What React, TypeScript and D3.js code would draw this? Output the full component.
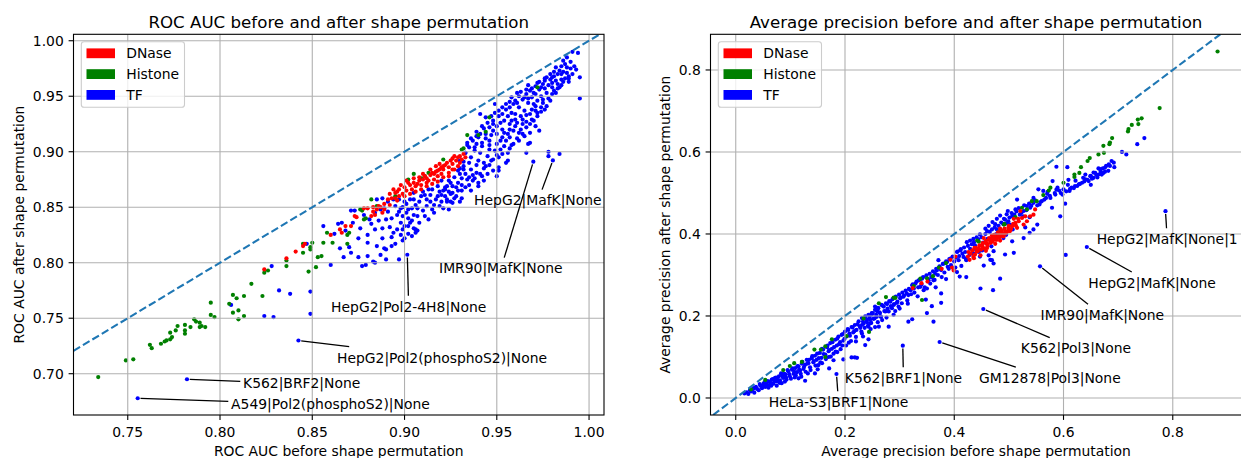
import React, { useEffect, useRef } from 'react';
import * as d3 from 'd3';

type Pt = [number, number];
type Ann = { label: string; point: Pt; text: Pt };

const categories = ['DNase', 'Histone', 'TF'];
const categoryColors = ['red', 'green', 'blue'];

const rocTicksX = [0.75, 0.8, 0.85, 0.9, 0.95, 1.0];
const rocTicksY = [0.7, 0.75, 0.8, 0.85, 0.9, 0.95, 1.0];
const apTicksX = [0, 0.2, 0.4, 0.6, 0.8];
const apTicksY = [0, 0.2, 0.4, 0.6, 0.8];

// ---------- ROC AUC panel ----------
const rocDNase: Pt[] = [
  [0.824, 0.794], [0.836, 0.804], [0.841, 0.810], [0.845, 0.815], [0.846, 0.817], [0.860, 0.825], [0.865, 0.830],
  [0.866, 0.827], [0.871, 0.833], [0.874, 0.841], [0.878, 0.849], [0.880, 0.849], [0.883, 0.850], [0.885, 0.848],
  [0.887, 0.850], [0.891, 0.857], [0.892, 0.862], [0.895, 0.863], [0.896, 0.864], [0.897, 0.866], [0.900, 0.868],
  [0.901, 0.865], [0.903, 0.870], [0.905, 0.872], [0.906, 0.869], [0.908, 0.874], [0.910, 0.875], [0.912, 0.876],
  [0.914, 0.879], [0.915, 0.881], [0.917, 0.882], [0.919, 0.884], [0.920, 0.886], [0.922, 0.888], [0.923, 0.890],
  [0.925, 0.892], [0.926, 0.894], [0.927, 0.896], [0.929, 0.895], [0.918, 0.878], [0.916, 0.875], [0.912, 0.872],
  [0.909, 0.870], [0.921, 0.887], [0.930, 0.896], [0.931, 0.893], [0.933, 0.895], [0.930, 0.890], [0.924, 0.878],
  [0.902, 0.872], [0.904, 0.866], [0.907, 0.871], [0.911, 0.878], [0.913, 0.874], [0.916, 0.880], [0.918, 0.883],
  [0.921, 0.884], [0.924, 0.886], [0.926, 0.889], [0.928, 0.892], [0.899, 0.862], [0.897, 0.860], [0.893, 0.858],
  [0.889, 0.853], [0.886, 0.851], [0.883, 0.846], [0.873, 0.842], [0.868, 0.833],
  [0.903, 0.862], [0.906, 0.864], [0.909, 0.866], [0.912, 0.869], [0.915, 0.871], [0.918, 0.873], [0.921, 0.877],
  [0.924, 0.881], [0.927, 0.884], [0.910, 0.880], [0.914, 0.884], [0.917, 0.887], [0.908, 0.877], [0.905, 0.876],
  [0.898, 0.870], [0.895, 0.858], [0.900, 0.860], [0.920, 0.880], [0.929, 0.887], [0.932, 0.898], [0.926, 0.884],
  [0.919, 0.889], [0.901, 0.874], [0.894, 0.866], [0.888, 0.845], [0.882, 0.842], [0.889, 0.848], [0.892, 0.852],
  [0.896, 0.856], [0.884, 0.843],
];

const rocHistone: Pt[] = [
  [0.734, 0.697], [0.749, 0.712], [0.753, 0.713], [0.762, 0.726], [0.763, 0.723], [0.768, 0.727], [0.770, 0.729],
  [0.771, 0.730], [0.773, 0.731], [0.774, 0.733], [0.773, 0.737], [0.776, 0.739], [0.777, 0.743], [0.781, 0.744],
  [0.781, 0.739], [0.781, 0.736], [0.784, 0.742], [0.786, 0.749], [0.787, 0.747], [0.789, 0.746], [0.790, 0.743],
  [0.789, 0.742], [0.792, 0.742], [0.795, 0.753], [0.795, 0.764], [0.797, 0.751], [0.805, 0.763], [0.807, 0.771],
  [0.807, 0.755], [0.809, 0.768], [0.810, 0.757], [0.810, 0.749], [0.813, 0.752], [0.813, 0.770], [0.817, 0.781],
  [0.823, 0.770], [0.824, 0.791], [0.826, 0.793], [0.836, 0.797], [0.836, 0.802], [0.848, 0.792], [0.852, 0.796],
  [0.853, 0.805], [0.845, 0.817], [0.845, 0.809], [0.849, 0.814], [0.849, 0.812], [0.850, 0.818], [0.855, 0.806],
  [0.856, 0.818], [0.861, 0.818], [0.858, 0.827], [0.869, 0.817], [0.869, 0.825], [0.870, 0.827], [0.876, 0.848],
  [0.878, 0.839], [0.879, 0.840], [0.882, 0.857], [0.885, 0.851], [0.895, 0.860], [0.902, 0.875], [0.905, 0.880],
  [0.909, 0.876], [0.913, 0.881], [0.921, 0.893], [0.932, 0.903], [0.934, 0.915], [0.972, 0.958], [0.946, 0.931],
  [0.944, 0.918], [0.940, 0.915], [0.931, 0.902], [0.911, 0.878], [0.877, 0.847],
];

const rocTF: Pt[] = [
  [0.7554, 0.6779], [0.7821, 0.695], [0.8425, 0.7299], [0.806, 0.762], [0.824, 0.752], [0.829, 0.751], [0.849, 0.754],
  [0.849, 0.774], [0.832, 0.775], [0.838, 0.772], [0.828, 0.797], [0.847, 0.817],
  [0.856, 0.833], [0.860, 0.798], [0.865, 0.813], [0.864, 0.835], [0.871, 0.847], [0.867, 0.805], [0.875, 0.805],
  [0.877, 0.797], [0.879, 0.798], [0.880, 0.806], [0.883, 0.801], [0.884, 0.830], [0.885, 0.857], [0.887, 0.848],
  [0.888, 0.822], [0.889, 0.813], [0.890, 0.839], [0.892, 0.832], [0.893, 0.815], [0.896, 0.843], [0.898, 0.849],
  [0.899, 0.850], [0.899, 0.842], [0.901, 0.845], [0.902, 0.848], [0.904, 0.849], [0.902, 0.840], [0.900, 0.833],
  [0.899, 0.830], [0.902, 0.833], [0.905, 0.831], [0.906, 0.827], [0.904, 0.824], [0.900, 0.822], [0.9015, 0.8072],
  [0.898, 0.836], [0.905, 0.843], [0.907, 0.849], [0.907, 0.842], [0.909, 0.860], [0.911, 0.861], [0.913, 0.866],
  [0.912, 0.857], [0.914, 0.861], [0.913, 0.839], [0.915, 0.848], [0.917, 0.857], [0.919, 0.864], [0.922, 0.866],
  [0.923, 0.855], [0.924, 0.848], [0.925, 0.872], [0.928, 0.860], [0.929, 0.872], [0.931, 0.876], [0.932, 0.884],
  [0.930, 0.885], [0.932, 0.891], [0.933, 0.899], [0.934, 0.906], [0.871, 0.809], [0.875, 0.822], [0.880, 0.825],
  [0.881, 0.839], [0.888, 0.858], [0.891, 0.855], [0.894, 0.857], [0.897, 0.857], [0.905, 0.863], [0.905, 0.857],
  [0.889, 0.849], [0.921, 0.849], [0.926, 0.854], [0.894, 0.827], [0.890, 0.812], [0.906, 0.830], [0.887, 0.807],
  [0.897, 0.803], [0.870, 0.814], [0.884, 0.800], [0.890, 0.803], [0.895, 0.817], [0.899, 0.820], [0.902, 0.826],
  [0.907, 0.829], [0.866, 0.836], [0.873, 0.847], [0.900, 0.855],
  [0.862, 0.826], [0.868, 0.829], [0.872, 0.836], [0.876, 0.831], [0.878, 0.843], [0.882, 0.835], [0.884, 0.845],
  [0.886, 0.838], [0.888, 0.831], [0.891, 0.846], [0.893, 0.840], [0.895, 0.851], [0.897, 0.846], [0.898, 0.825],
  [0.901, 0.853], [0.903, 0.857], [0.904, 0.838], [0.906, 0.852], [0.908, 0.855], [0.910, 0.847], [0.910, 0.864],
  [0.912, 0.851], [0.914, 0.855], [0.915, 0.866], [0.916, 0.852], [0.918, 0.869], [0.918, 0.860], [0.920, 0.855],
  [0.922, 0.860], [0.924, 0.864], [0.926, 0.869], [0.927, 0.858], [0.929, 0.865], [0.931, 0.870], [0.933, 0.868],
  [0.935, 0.877], [0.935, 0.870], [0.938, 0.876], [0.941, 0.880], [0.943, 0.885], [0.946, 0.888], [0.948, 0.893],
  [0.951, 0.895], [0.953, 0.898], [0.957, 0.903], [0.959, 0.907], [0.962, 0.910], [0.965, 0.914], [0.968, 0.917],
  [0.971, 0.923], [0.974, 0.936], [0.977, 0.941], [0.979, 0.946], [0.982, 0.953], [0.984, 0.958], [0.986, 0.963],
  [0.989, 0.966], [0.976, 0.938], [0.972, 0.935], [0.969, 0.929], [0.966, 0.927], [0.961, 0.926], [0.957, 0.920],
  [0.954, 0.917], [0.880, 0.818], [0.885, 0.815], [0.893, 0.823], [0.896, 0.830], [0.903, 0.836], [0.908, 0.836],
  [0.911, 0.842], [0.916, 0.845], [0.919, 0.851], [0.925, 0.862],
  [0.991, 0.990], [0.994, 0.989], [0.986, 0.982], [0.987, 0.979], [0.985, 0.977], [0.988, 0.976], [0.992, 0.977],
  [0.993, 0.974], [0.995, 0.967], [0.995, 0.948], [0.991, 0.970], [0.989, 0.968], [0.984, 0.973], [0.982, 0.976],
  [0.981, 0.968], [0.985, 0.965], [0.983, 0.961], [0.980, 0.962], [0.979, 0.970], [0.977, 0.967], [0.980, 0.958],
  [0.975, 0.961], [0.973, 0.956], [0.977, 0.953], [0.981, 0.955], [0.974, 0.950], [0.971, 0.959], [0.970, 0.953],
  [0.968, 0.955], [0.969, 0.949], [0.966, 0.952], [0.964, 0.947], [0.967, 0.944], [0.970, 0.943], [0.972, 0.946],
  [0.975, 0.944], [0.962, 0.950], [0.960, 0.946], [0.959, 0.943], [0.962, 0.940], [0.965, 0.937], [0.968, 0.934],
  [0.971, 0.937], [0.970, 0.928], [0.972, 0.932], [0.964, 0.929], [0.960, 0.934], [0.958, 0.935], [0.955, 0.938],
  [0.956, 0.932], [0.954, 0.928], [0.951, 0.932], [0.952, 0.926], [0.950, 0.923], [0.957, 0.925], [0.960, 0.923],
  [0.963, 0.920], [0.959, 0.919], [0.966, 0.922], [0.973, 0.919], [0.968, 0.908], [0.964, 0.916], [0.956, 0.916],
  [0.953, 0.913], [0.950, 0.916], [0.948, 0.919], [0.946, 0.922], [0.948, 0.928], [0.945, 0.926], [0.942, 0.923],
  [0.944, 0.916], [0.941, 0.916], [0.940, 0.913], [0.939, 0.914], [0.937, 0.910], [0.939, 0.907], [0.942, 0.908],
  [0.946, 0.910], [0.950, 0.907], [0.955, 0.910], [0.952, 0.902], [0.956, 0.899], [0.949, 0.901], [0.946, 0.902],
  [0.945, 0.896], [0.941, 0.899], [0.938, 0.901], [0.935, 0.904], [0.933, 0.899], [0.936, 0.895], [0.940, 0.892],
  [0.943, 0.890], [0.947, 0.892], [0.955, 0.890], [0.951, 0.886], [0.948, 0.883], [0.945, 0.880], [0.942, 0.878],
  [0.939, 0.881], [0.936, 0.884], [0.932, 0.887], [0.930, 0.892], [0.929, 0.883], [0.930, 0.880], [0.927, 0.877],
  [0.934, 0.875], [0.937, 0.874], [0.940, 0.872], [0.943, 0.874], [0.924, 0.874], [0.923, 0.869], [0.928, 0.868],
  [0.931, 0.865], [0.926, 0.863], [0.921, 0.865], [0.920, 0.861], [0.923, 0.857], [0.951, 0.883], [0.950, 0.878],
  [0.956, 0.892], [0.941, 0.934], [0.944, 0.931], [0.947, 0.932], [0.949, 0.943], [0.967, 0.907], [0.966, 0.899],
  [0.978, 0.900], [0.984, 0.898], [0.9804, 0.8922], [0.9698, 0.891], [0.978, 0.896], [0.920, 0.874], [0.922, 0.868],
  [0.925, 0.855], [0.930, 0.855], [0.931, 0.858], [0.936, 0.865], [0.940, 0.869],
  [0.986, 0.972], [0.988, 0.971], [0.990, 0.975], [0.989, 0.963], [0.987, 0.966], [0.983, 0.970], [0.985, 0.960],
  [0.982, 0.964], [0.979, 0.965], [0.976, 0.964], [0.974, 0.958], [0.978, 0.960], [0.972, 0.962], [0.969, 0.957],
  [0.967, 0.960], [0.966, 0.956], [0.963, 0.954], [0.965, 0.949], [0.961, 0.953], [0.958, 0.949], [0.957, 0.945],
  [0.955, 0.943], [0.953, 0.940], [0.951, 0.937], [0.949, 0.935], [0.953, 0.934], [0.957, 0.940], [0.961, 0.944],
  [0.967, 0.948], [0.971, 0.952], [0.976, 0.957], [0.980, 0.967], [0.983, 0.957], [0.978, 0.948], [0.974, 0.940],
  [0.969, 0.938], [0.963, 0.932], [0.958, 0.928], [0.953, 0.920], [0.947, 0.915], [0.944, 0.912], [0.960, 0.929],
  [0.966, 0.933], [0.971, 0.941], [0.975, 0.947], [0.980, 0.952], [0.985, 0.970], [0.990, 0.981], [0.988, 0.985],
  [0.981, 0.972], [0.976, 0.966], [0.973, 0.963], [0.948, 0.925], [0.943, 0.921], [0.939, 0.918], [0.936, 0.912],
  [0.934, 0.908], [0.938, 0.904], [0.942, 0.905], [0.946, 0.906], [0.952, 0.910], [0.957, 0.913], [0.962, 0.917],
  [0.968, 0.925], [0.964, 0.925], [0.961, 0.912], [0.958, 0.906], [0.954, 0.905], [0.950, 0.897], [0.944, 0.887],
  [0.939, 0.888], [0.935, 0.890], [0.933, 0.880], [0.937, 0.879],
];

const rocAnnotations: Ann[] = [
  { label: 'HepG2|MafK|None', point: [0.9804, 0.8922], text: [0.9377, 0.8516] },
  { label: 'IMR90|MafK|None', point: [0.9698, 0.891], text: [0.9187, 0.7903] },
  { label: 'HepG2|Pol2-4H8|None', point: [0.9015, 0.8072], text: [0.8602, 0.756] },
  { label: 'HepG2|Pol2(phosphoS2)|None', point: [0.8425, 0.7299], text: [0.8634, 0.7101] },
  { label: 'K562|BRF2|None', point: [0.7821, 0.695], text: [0.8125, 0.6867] },
  { label: 'A549|Pol2(phosphoS2)|None', point: [0.7554, 0.6779], text: [0.806, 0.6678] },
];

// ---------- Average precision panel ----------
const apDNase: Pt[] = [
  [0.393, 0.337], [0.396, 0.318], [0.402, 0.345], [0.426, 0.356], [0.435, 0.344], [0.445, 0.364], [0.451, 0.372],
  [0.460, 0.376], [0.466, 0.384], [0.472, 0.388], [0.479, 0.392], [0.487, 0.396], [0.493, 0.400], [0.499, 0.408],
  [0.484, 0.384], [0.475, 0.376], [0.469, 0.396], [0.448, 0.348], [0.377, 0.315], [0.399, 0.311], [0.451, 0.370],
  [0.457, 0.378], [0.463, 0.386], [0.469, 0.389], [0.475, 0.394], [0.481, 0.398], [0.487, 0.403], [0.493, 0.407],
  [0.499, 0.415], [0.506, 0.419], [0.512, 0.427], [0.518, 0.431], [0.524, 0.439], [0.530, 0.443], [0.539, 0.443],
  [0.545, 0.447], [0.548, 0.460], [0.527, 0.423], [0.515, 0.415], [0.502, 0.407], [0.490, 0.394], [0.478, 0.386],
  [0.466, 0.378], [0.460, 0.366], [0.484, 0.413], [0.509, 0.437], [0.533, 0.431], [0.521, 0.456], [0.454, 0.390],
  [0.324, 0.268], [0.351, 0.284], [0.340, 0.280], [0.441, 0.357], [0.437, 0.366], [0.458, 0.359],
  [0.425, 0.345], [0.430, 0.352], [0.433, 0.360], [0.438, 0.350], [0.440, 0.366], [0.443, 0.358], [0.446, 0.372],
  [0.449, 0.362], [0.452, 0.378], [0.455, 0.365], [0.458, 0.383], [0.461, 0.372], [0.464, 0.390], [0.467, 0.380],
  [0.470, 0.382], [0.473, 0.398], [0.476, 0.386], [0.480, 0.404], [0.483, 0.392], [0.486, 0.409], [0.489, 0.400],
  [0.492, 0.413], [0.496, 0.404], [0.500, 0.420], [0.504, 0.412], [0.508, 0.425], [0.513, 0.420], [0.517, 0.437],
  [0.428, 0.337], [0.436, 0.341],
];

const apHistone: Pt[] = [
  [0.882, 0.845], [0.776, 0.707], [0.743, 0.682], [0.736, 0.679], [0.737, 0.668], [0.725, 0.666], [0.719, 0.656],
  [0.718, 0.650], [0.689, 0.634], [0.685, 0.623], [0.684, 0.619], [0.673, 0.615], [0.674, 0.598], [0.664, 0.594],
  [0.648, 0.585], [0.644, 0.578], [0.632, 0.563], [0.629, 0.549], [0.620, 0.545], [0.620, 0.539], [0.600, 0.525],
  [0.576, 0.513], [0.573, 0.506], [0.563, 0.495], [0.551, 0.480], [0.542, 0.480], [0.533, 0.460], [0.512, 0.441],
  [0.491, 0.423], [0.524, 0.464], [0.289, 0.245], [0.292, 0.244], [0.341, 0.239], [0.338, 0.291], [0.326, 0.273],
  [0.361, 0.297], [0.385, 0.329], [0.442, 0.384], [0.445, 0.381], [0.481, 0.404], [0.492, 0.424], [0.028, 0.021],
  [0.054, 0.044], [0.087, 0.068], [0.099, 0.078], [0.121, 0.088], [0.144, 0.118], [0.156, 0.118], [0.164, 0.126],
  [0.164, 0.100], [0.203, 0.151], [0.234, 0.194], [0.244, 0.161], [0.107, 0.085], [0.176, 0.143], [0.262, 0.231],
  [0.275, 0.246], [0.350, 0.292], [0.372, 0.318],
];

const apTF: Pt[] = [
  [0.016, 0.011], [0.020, 0.014], [0.023, 0.010], [0.028, 0.016], [0.031, 0.021], [0.034, 0.013], [0.037, 0.027],
  [0.042, 0.019], [0.045, 0.030], [0.048, 0.024], [0.051, 0.035], [0.054, 0.027], [0.058, 0.041], [0.060, 0.031],
  [0.063, 0.038], [0.066, 0.045], [0.069, 0.035], [0.072, 0.049], [0.075, 0.041], [0.079, 0.053], [0.081, 0.043],
  [0.084, 0.058], [0.087, 0.049], [0.091, 0.057], [0.093, 0.045], [0.096, 0.065], [0.099, 0.053], [0.103, 0.069],
  [0.106, 0.059], [0.109, 0.073], [0.112, 0.063], [0.115, 0.077], [0.118, 0.067], [0.121, 0.084], [0.124, 0.071],
  [0.127, 0.081], [0.130, 0.093], [0.133, 0.085], [0.136, 0.075], [0.139, 0.097], [0.142, 0.087], [0.145, 0.103],
  [0.148, 0.093], [0.151, 0.080], [0.154, 0.110], [0.157, 0.098], [0.160, 0.118], [0.164, 0.106], [0.167, 0.124],
  [0.170, 0.114], [0.173, 0.134], [0.176, 0.120], [0.179, 0.108], [0.182, 0.142], [0.185, 0.128], [0.188, 0.150],
  [0.191, 0.136], [0.194, 0.154], [0.197, 0.140], [0.200, 0.162], [0.203, 0.150], [0.206, 0.166], [0.209, 0.152],
  [0.212, 0.173], [0.215, 0.160], [0.218, 0.178], [0.221, 0.166], [0.225, 0.187], [0.228, 0.171], [0.231, 0.195],
  [0.234, 0.181], [0.237, 0.199], [0.240, 0.185], [0.243, 0.203], [0.246, 0.191], [0.249, 0.207], [0.252, 0.193],
  [0.255, 0.215], [0.258, 0.198], [0.261, 0.219], [0.264, 0.207], [0.267, 0.227],
  [0.026, 0.019], [0.033, 0.024], [0.039, 0.022], [0.044, 0.034], [0.049, 0.029], [0.053, 0.039], [0.056, 0.033],
  [0.061, 0.040], [0.065, 0.030], [0.068, 0.046], [0.071, 0.041], [0.074, 0.050], [0.077, 0.044], [0.080, 0.037],
  [0.083, 0.060], [0.086, 0.052], [0.089, 0.059], [0.092, 0.050], [0.095, 0.068], [0.098, 0.058], [0.101, 0.047],
  [0.104, 0.072], [0.107, 0.064], [0.110, 0.055], [0.113, 0.078], [0.116, 0.069], [0.119, 0.059], [0.122, 0.088],
  [0.125, 0.076], [0.128, 0.064], [0.131, 0.084], [0.134, 0.093], [0.137, 0.068], [0.140, 0.102], [0.143, 0.090],
  [0.146, 0.079], [0.149, 0.108], [0.152, 0.097], [0.155, 0.087], [0.158, 0.120], [0.161, 0.107], [0.165, 0.095],
  [0.168, 0.128], [0.171, 0.117], [0.174, 0.101], [0.177, 0.136], [0.180, 0.124], [0.183, 0.113], [0.186, 0.145],
  [0.189, 0.131], [0.192, 0.119], [0.196, 0.156], [0.199, 0.144], [0.202, 0.128], [0.205, 0.168], [0.208, 0.157],
  [0.211, 0.139], [0.214, 0.172], [0.217, 0.163], [0.220, 0.149], [0.223, 0.180], [0.227, 0.175], [0.230, 0.162],
  [0.233, 0.186], [0.236, 0.171], [0.239, 0.192], [0.242, 0.176], [0.245, 0.196], [0.248, 0.183], [0.251, 0.207],
  [0.254, 0.194], [0.257, 0.203], [0.260, 0.220], [0.263, 0.209], [0.266, 0.198], [0.269, 0.225], [0.272, 0.212],
  [0.275, 0.231], [0.278, 0.218], [0.281, 0.236], [0.284, 0.224], [0.287, 0.241], [0.290, 0.229], [0.293, 0.247],
  [0.296, 0.235], [0.299, 0.252], [0.302, 0.245], [0.305, 0.257], [0.308, 0.250], [0.311, 0.262], [0.314, 0.238],
  [0.317, 0.266], [0.321, 0.253], [0.324, 0.277], [0.327, 0.257], [0.331, 0.284], [0.334, 0.270], [0.337, 0.289],
  [0.340, 0.277], [0.343, 0.295], [0.346, 0.270], [0.349, 0.299], [0.352, 0.290], [0.355, 0.303], [0.358, 0.295],
  [0.361, 0.309], [0.364, 0.288], [0.367, 0.315], [0.370, 0.300], [0.373, 0.321], [0.376, 0.312], [0.379, 0.327],
  [0.382, 0.306], [0.385, 0.333], [0.388, 0.320], [0.391, 0.339], [0.394, 0.324], [0.397, 0.345], [0.400, 0.333],
  [0.403, 0.342], [0.406, 0.357], [0.409, 0.346], [0.412, 0.363], [0.415, 0.352], [0.418, 0.367], [0.421, 0.340],
  [0.060, 0.025], [0.075, 0.030], [0.090, 0.040], [0.108, 0.050], [0.120, 0.052], [0.132, 0.060], [0.150, 0.070],
  [0.158, 0.085], [0.170, 0.100], [0.186, 0.112], [0.195, 0.128], [0.207, 0.135], [0.220, 0.138], [0.233, 0.150],
  [0.247, 0.168], [0.260, 0.185], [0.268, 0.190], [0.276, 0.196], [0.292, 0.212], [0.300, 0.218], [0.315, 0.230],
  [0.333, 0.248], [0.348, 0.240], [0.366, 0.270], [0.385, 0.290], [0.402, 0.318], [0.413, 0.322],
  [0.084, 0.036], [0.115, 0.048], [0.127, 0.042], [0.145, 0.060], [0.171, 0.072], [0.179, 0.092], [0.197, 0.094],
  [0.212, 0.099], [0.218, 0.099], [0.237, 0.129], [0.243, 0.143], [0.231, 0.157], [0.255, 0.173], [0.1844, 0.0585],
  [0.3058, 0.1276],
  [0.231, 0.178], [0.240, 0.190], [0.249, 0.203], [0.246, 0.182], [0.259, 0.211], [0.265, 0.199], [0.255, 0.223],
  [0.271, 0.223], [0.277, 0.229], [0.274, 0.211], [0.283, 0.235], [0.286, 0.219], [0.289, 0.227], [0.280, 0.211],
  [0.295, 0.232], [0.298, 0.223], [0.289, 0.203], [0.301, 0.243], [0.307, 0.247], [0.304, 0.231], [0.313, 0.255],
  [0.320, 0.263], [0.316, 0.251], [0.326, 0.267], [0.329, 0.279], [0.323, 0.275], [0.335, 0.287], [0.341, 0.291],
  [0.338, 0.271], [0.344, 0.263], [0.350, 0.267], [0.353, 0.287], [0.359, 0.295], [0.356, 0.279], [0.365, 0.303],
  [0.368, 0.311], [0.362, 0.287], [0.374, 0.315], [0.371, 0.336], [0.381, 0.328], [0.377, 0.295], [0.387, 0.332],
  [0.393, 0.340], [0.390, 0.315], [0.405, 0.356], [0.411, 0.360], [0.408, 0.336], [0.417, 0.344], [0.422, 0.336],
  [0.423, 0.380], [0.429, 0.364], [0.435, 0.352], [0.438, 0.372], [0.445, 0.356], [0.451, 0.360], [0.454, 0.323],
  [0.463, 0.348], [0.469, 0.336], [0.472, 0.328], [0.422, 0.295], [0.405, 0.307], [0.376, 0.255], [0.376, 0.232],
  [0.359, 0.224], [0.350, 0.207], [0.316, 0.186], [0.362, 0.186], [0.448, 0.267], [0.471, 0.263], [0.484, 0.291],
  [0.429, 0.384], [0.475, 0.424], [0.496, 0.448], [0.490, 0.424], [0.4532, 0.217], [0.243, 0.174], [0.262, 0.174],
  [0.280, 0.174], [0.3732, 0.1366], [0.323, 0.192], [0.410, 0.296], [0.222, 0.098], [0.557, 0.3212], [0.604, 0.349],
  [0.6427, 0.3683], [0.7867, 0.4556],
  [0.420, 0.356], [0.425, 0.371], [0.428, 0.349], [0.432, 0.375], [0.436, 0.380], [0.440, 0.361], [0.444, 0.386],
  [0.447, 0.345], [0.450, 0.392], [0.453, 0.379], [0.457, 0.400], [0.461, 0.388], [0.465, 0.405], [0.468, 0.370],
  [0.474, 0.416], [0.477, 0.400], [0.481, 0.420], [0.486, 0.428], [0.491, 0.437], [0.496, 0.426], [0.501, 0.440],
  [0.505, 0.451], [0.510, 0.447], [0.514, 0.455], [0.518, 0.463], [0.523, 0.452], [0.528, 0.470], [0.532, 0.458],
  [0.537, 0.474], [0.541, 0.469], [0.548, 0.482], [0.552, 0.470],
  [0.748, 0.634], [0.735, 0.619], [0.715, 0.594], [0.707, 0.600], [0.692, 0.574], [0.685, 0.566], [0.682, 0.554],
  [0.676, 0.562], [0.673, 0.549], [0.667, 0.558], [0.664, 0.545], [0.658, 0.549], [0.655, 0.537], [0.649, 0.541],
  [0.646, 0.529], [0.640, 0.533], [0.634, 0.525], [0.628, 0.521], [0.621, 0.517], [0.615, 0.513], [0.611, 0.505],
  [0.600, 0.509], [0.595, 0.500], [0.589, 0.513], [0.585, 0.496], [0.576, 0.488], [0.570, 0.498], [0.565, 0.484],
  [0.560, 0.480], [0.556, 0.472], [0.545, 0.476], [0.539, 0.464], [0.533, 0.468], [0.527, 0.456], [0.520, 0.447],
  [0.512, 0.460], [0.506, 0.443], [0.499, 0.431], [0.493, 0.435], [0.594, 0.443], [0.579, 0.464], [0.603, 0.474],
  [0.607, 0.563], [0.580, 0.529], [0.554, 0.509], [0.545, 0.488], [0.563, 0.505], [0.526, 0.443], [0.538, 0.441],
  [0.515, 0.484], [0.498, 0.456], [0.478, 0.411], [0.495, 0.398], [0.507, 0.411], [0.530, 0.416], [0.545, 0.411],
  [0.552, 0.423], [0.538, 0.403], [0.460, 0.407], [0.469, 0.411], [0.502, 0.423], [0.490, 0.390], [0.506, 0.382],
  [0.527, 0.390], [0.472, 0.358], [0.493, 0.350], [0.509, 0.354], [0.466, 0.337],
  [0.655, 0.550], [0.660, 0.544], [0.668, 0.552], [0.672, 0.560], [0.678, 0.566], [0.683, 0.570], [0.688, 0.578],
  [0.670, 0.545], [0.662, 0.538], [0.652, 0.535], [0.644, 0.532], [0.638, 0.528], [0.630, 0.522], [0.625, 0.517],
  [0.619, 0.512], [0.612, 0.510], [0.605, 0.504], [0.598, 0.496], [0.592, 0.506], [0.584, 0.500], [0.575, 0.493],
  [0.568, 0.488], [0.558, 0.478], [0.650, 0.520], [0.640, 0.545], [0.693, 0.563], [0.676, 0.552], [0.664, 0.560],
  [0.650, 0.542], [0.636, 0.537], [0.622, 0.530], [0.608, 0.520], [0.587, 0.508], [0.571, 0.503],
  [0.457, 0.413], [0.463, 0.420], [0.470, 0.429], [0.478, 0.437], [0.484, 0.445], [0.441, 0.392], [0.447, 0.399],
  [0.435, 0.388], [0.587, 0.564], [0.609, 0.532],
];

const apAnnotations: Ann[] = [
  { label: 'HepG2|MafK|None|1', point: [0.7867, 0.4556], text: [0.6607, 0.3756] },
  { label: 'HepG2|MafK|None', point: [0.6427, 0.3683], text: [0.6454, 0.2687] },
  { label: 'IMR90|MafK|None', point: [0.557, 0.3212], text: [0.558, 0.1902] },
  { label: 'K562|Pol3|None', point: [0.4532, 0.217], text: [0.5218, 0.1087] },
  { label: 'GM12878|Pol3|None', point: [0.3732, 0.1366], text: [0.4455, 0.0365] },
  { label: 'K562|BRF1|None', point: [0.3058, 0.1276], text: [0.1997, 0.0365] },
  { label: 'HeLa-S3|BRF1|None', point: [0.1844, 0.0585], text: [0.0605, -0.022] },
];

// ---------- layout ----------
const W = 1241;
const H = 458;
const FONT = "'DejaVu Sans', sans-serif";
const FS = 13.9;

interface Panel {
  title: string;
  xLabel: string;
  yLabel: string;
  xDomain: [number, number];
  yDomain: [number, number];
  left: number;
  right: number;
  top: number;
  bottom: number;
  xTicks: number[];
  yTicks: number[];
  fmt: string;
  series: Pt[][];
  annotations: Ann[];
  yLabelX: number;
}

const panels: Panel[] = [
  {
    title: 'ROC AUC before and after shape permutation',
    xLabel: 'ROC AUC before shape permutation',
    yLabel: 'ROC AUC after shape permutation',
    xDomain: [0.7206, 1.0081],
    yDomain: [0.6628, 1.0058],
    left: 73.5, right: 604, top: 34.3, bottom: 415,
    xTicks: rocTicksX, yTicks: rocTicksY, fmt: '.2f',
    series: [rocDNase, rocHistone, rocTF],
    annotations: rocAnnotations,
    yLabelX: 24,
  },
  {
    title: 'Average precision before and after shape permutation',
    xLabel: 'Average precision before shape permutation',
    yLabel: 'Average precision after shape permutation',
    xDomain: [-0.0462, 0.926],
    yDomain: [-0.0415, 0.887],
    left: 710.5, right: 1241.6, top: 34.3, bottom: 415,
    xTicks: apTicksX, yTicks: apTicksY, fmt: '.1f',
    series: [apDNase, apHistone, apTF],
    annotations: apAnnotations,
    yLabelX: 669.7,
  },
];

function drawPanel(svg: d3.Selection<SVGSVGElement, unknown, null, undefined>, p: Panel, idx: number) {
  const x = d3.scaleLinear().domain(p.xDomain).range([p.left, p.right]);
  const y = d3.scaleLinear().domain(p.yDomain).range([p.bottom, p.top]);
  const clipId = `axclip${idx}`;
  svg.append('defs').append('clipPath').attr('id', clipId).append('rect')
    .attr('x', p.left).attr('y', p.top).attr('width', p.right - p.left).attr('height', p.bottom - p.top);
  const g = svg.append('g');

  // points: TF first, then Histone, then DNase on top
  [2, 1, 0].forEach((ci) => {
    g.append('g').selectAll('circle').data(p.series[ci]).join('circle')
      .attr('cx', (d) => x(d[0])).attr('cy', (d) => y(d[1]))
      .attr('r', 2.1).attr('fill', categoryColors[ci]);
  });

  // grid (drawn above scatter, as in matplotlib default)
  const grid = g.append('g').attr('stroke', '#b0b0b0').attr('stroke-width', 1.1).attr('clip-path', `url(#${clipId})`);
  p.xTicks.forEach((t) => grid.append('line').attr('x1', x(t)).attr('x2', x(t)).attr('y1', p.top).attr('y2', p.bottom));
  p.yTicks.forEach((t) => grid.append('line').attr('x1', p.left).attr('x2', p.right).attr('y1', y(t)).attr('y2', y(t)));

  // diagonal
  const lo = Math.max(p.xDomain[0], p.yDomain[0]);
  const hi = Math.min(p.xDomain[1], p.yDomain[1]);
  g.append('line').attr('x1', x(lo)).attr('y1', y(lo)).attr('x2', x(hi)).attr('y2', y(hi))
    .attr('stroke', '#1f77b4').attr('stroke-width', 2.08).attr('stroke-dasharray', '7.7,3.3')
    .attr('clip-path', `url(#${clipId})`);

  // spines
  g.append('rect').attr('x', p.left).attr('y', p.top).attr('width', p.right - p.left).attr('height', p.bottom - p.top)
    .attr('fill', 'none').attr('stroke', 'black').attr('stroke-width', 1.1);

  const fmt = d3.format(p.fmt);
  const tk = g.append('g').attr('stroke', 'black').attr('stroke-width', 1.1);
  p.xTicks.forEach((t) => tk.append('line').attr('x1', x(t)).attr('x2', x(t)).attr('y1', p.bottom).attr('y2', p.bottom + 4.9));
  p.yTicks.forEach((t) => tk.append('line').attr('x1', p.left - 4.9).attr('x2', p.left).attr('y1', y(t)).attr('y2', y(t)));

  const txt = g.append('g').attr('font-family', FONT).attr('font-size', FS).attr('fill', 'black');
  p.xTicks.forEach((t) => txt.append('text').attr('x', x(t)).attr('y', 437).attr('text-anchor', 'middle').text(fmt(t)));
  p.yTicks.forEach((t) => txt.append('text').attr('x', p.left - 9.7).attr('y', y(t) + 5).attr('text-anchor', 'end').text(fmt(t)));

  const cx = (p.left + p.right) / 2;
  txt.append('text').attr('x', cx).attr('y', 455.5).attr('text-anchor', 'middle').text(p.xLabel);
  const cy = (p.top + p.bottom) / 2;
  txt.append('text').attr('x', p.yLabelX).attr('y', cy).attr('text-anchor', 'middle')
    .attr('transform', `rotate(-90, ${p.yLabelX}, ${cy})`).text(p.yLabel);
  g.append('text').attr('x', cx).attr('y', 27.5).attr('text-anchor', 'middle')
    .attr('font-family', FONT).attr('font-size', 16.67).attr('fill', 'black').text(p.title);

  // annotations
  const ann = g.append('g');
  p.annotations.forEach((a) => {
    const t = ann.append('text').attr('x', x(a.text[0])).attr('y', y(a.text[1]))
      .attr('font-family', FONT).attr('font-size', FS).attr('fill', 'black').text(a.label);
    const bb = (t.node() as SVGTextElement).getBBox();
    const c = [bb.x + bb.width / 2, bb.y + bb.height / 2];
    const P = [x(a.point[0]), y(a.point[1])];
    const dx = P[0] - c[0];
    const dy = P[1] - c[1];
    const pad = 2.8;
    const tx = dx === 0 ? Infinity : (bb.width / 2 + pad) / Math.abs(dx);
    const ty = dy === 0 ? Infinity : (bb.height / 2 + pad) / Math.abs(dy);
    const t0 = Math.min(tx, ty);
    if (t0 >= 1) return;
    const len = Math.hypot(dx, dy);
    const sx = c[0] + dx * t0;
    const sy = c[1] + dy * t0;
    const ex = P[0] - (dx / len) * 2.8;
    const ey = P[1] - (dy / len) * 2.8;
    ann.append('line').attr('x1', sx).attr('y1', sy).attr('x2', ex).attr('y2', ey)
      .attr('stroke', 'black').attr('stroke-width', 1.3);
  });

  // legend
  const lx = p.left + 7.8;
  const ly = 41.7;
  const leg = g.append('g');
  leg.append('rect').attr('x', lx).attr('y', ly).attr('width', 103.2).attr('height', 65.6)
    .attr('rx', 2.8).attr('ry', 2.8).attr('fill', 'white').attr('fill-opacity', 0.8)
    .attr('stroke', '#cccccc').attr('stroke-width', 1.1);
  categories.forEach((name, i) => {
    const rowY = 53.3 + i * 20.8;
    leg.append('rect').attr('x', lx + 5.2).attr('y', rowY - 4.9).attr('width', 28.5).attr('height', 9.8)
      .attr('fill', categoryColors[i]);
    leg.append('text').attr('x', lx + 44.9).attr('y', rowY + 5).attr('font-family', FONT).attr('font-size', FS)
      .attr('fill', 'black').text(name);
  });
}

export default function App() {
  const ref = useRef<SVGSVGElement>(null);
  useEffect(() => {
    if (!ref.current) return;
    const svg = d3.select(ref.current);
    svg.selectAll('*').remove();
    panels.forEach((p, i) => drawPanel(svg, p, i));
  }, []);
  return (
    <svg
      ref={ref}
      width={W}
      height={H}
      style={{ position: 'absolute', left: 0, top: 0, background: 'white' }}
    />
  );
}
